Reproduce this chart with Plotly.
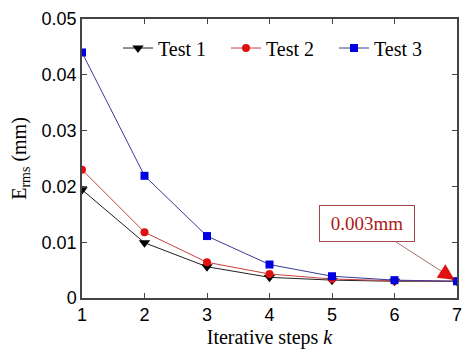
import plotly.graph_objects as go

steps = [1, 2, 3, 4, 5, 6, 7]
test1 = [0.0194, 0.0099, 0.0056, 0.0037, 0.0032, 0.0030, 0.0030]
test2 = [0.0230, 0.0118, 0.0064, 0.0043, 0.0034, 0.0031, 0.0030]
test3 = [0.0440, 0.0219, 0.0111, 0.0060, 0.0039, 0.0032, 0.0030]
names = ["Test 1", "Test 2", "Test 3"]
y_ticks = [0, 0.01, 0.02, 0.03, 0.04, 0.05]
y_labels = ["0", "0.01", "0.02", "0.03", "0.04", "0.05"]
x_ticks = [1, 2, 3, 4, 5, 6, 7]
note_x, note_y, note_text = 7, 0.003, "0.003mm"

serif = "Liberation Serif, Times New Roman, serif"
sans = "Liberation Sans, Arial, sans-serif"

fig = go.Figure()
fig.add_trace(go.Scatter(x=steps, y=test1, name=names[0], mode="lines+markers",
                         line=dict(color="#202020", width=1),
                         marker=dict(symbol="triangle-down", size=10, color="#000000")))
fig.add_trace(go.Scatter(x=steps, y=test2, name=names[1], mode="lines+markers",
                         line=dict(color="#c84040", width=1),
                         marker=dict(symbol="circle", size=8, color="#e01010")))
fig.add_trace(go.Scatter(x=steps, y=test3, name=names[2], mode="lines+markers",
                         line=dict(color="#3a3a9a", width=1),
                         marker=dict(symbol="square", size=8, color="#0000e0")))

# annotation box with thin connector line
fig.add_annotation(x=note_x, y=note_y, xref="x", yref="y",
                   text=note_text, font=dict(family=serif, size=19, color="#b01818"),
                   showarrow=True, arrowhead=0, arrowwidth=1,
                   arrowcolor="#b07070", ax=-90, ay=-58, standoff=6,
                   width=84, height=25,
                   bordercolor="#a04848", borderwidth=1, borderpad=5, bgcolor="white")
# red arrow head
fig.add_annotation(x=note_x, y=note_y, xref="x", yref="y", text="",
                   showarrow=True, arrowhead=2, arrowsize=3.2, arrowwidth=1,
                   arrowcolor="#e01010", ax=-17, ay=-11, standoff=3)

# the page body adds an 8px offset, so the figure is 8px smaller and margins shifted
fig.update_layout(
    width=466, height=347,
    margin=dict(l=74, r=17, t=11, b=57),
    paper_bgcolor="white", plot_bgcolor="white",
    showlegend=True,
    legend=dict(orientation="h", x=0.096, y=0.896, xanchor="left", yanchor="middle",
                font=dict(family=serif, size=20, color="black"),
                bgcolor="rgba(0,0,0,0)", entrywidth=63, traceorder="normal"),
    xaxis=dict(range=[1, 7], tickvals=x_ticks, ticks="inside", ticklen=5,
               showline=True, linecolor="#444", linewidth=1.5, mirror="ticks",
               showgrid=False, zeroline=False, automargin=False,
               tickfont=dict(family=sans, size=18, color="black"),
               title=dict(text="Iterative steps <i>k</i>", font=dict(family=serif, size=20, color="black"),
                          standoff=6)),
    yaxis=dict(range=[0, 0.05], tickvals=y_ticks, ticktext=y_labels,
               ticks="inside", ticklen=5,
               showline=True, linecolor="#444", linewidth=1.5, mirror="ticks",
               showgrid=False, zeroline=False, automargin=False,
               tickfont=dict(family=sans, size=18, color="black"),
               title=dict(text="E<sub>rms</sub> (mm)", font=dict(family=serif, size=20, color="black"),
                          standoff=12)),
)

fig.write_html("out.html")
